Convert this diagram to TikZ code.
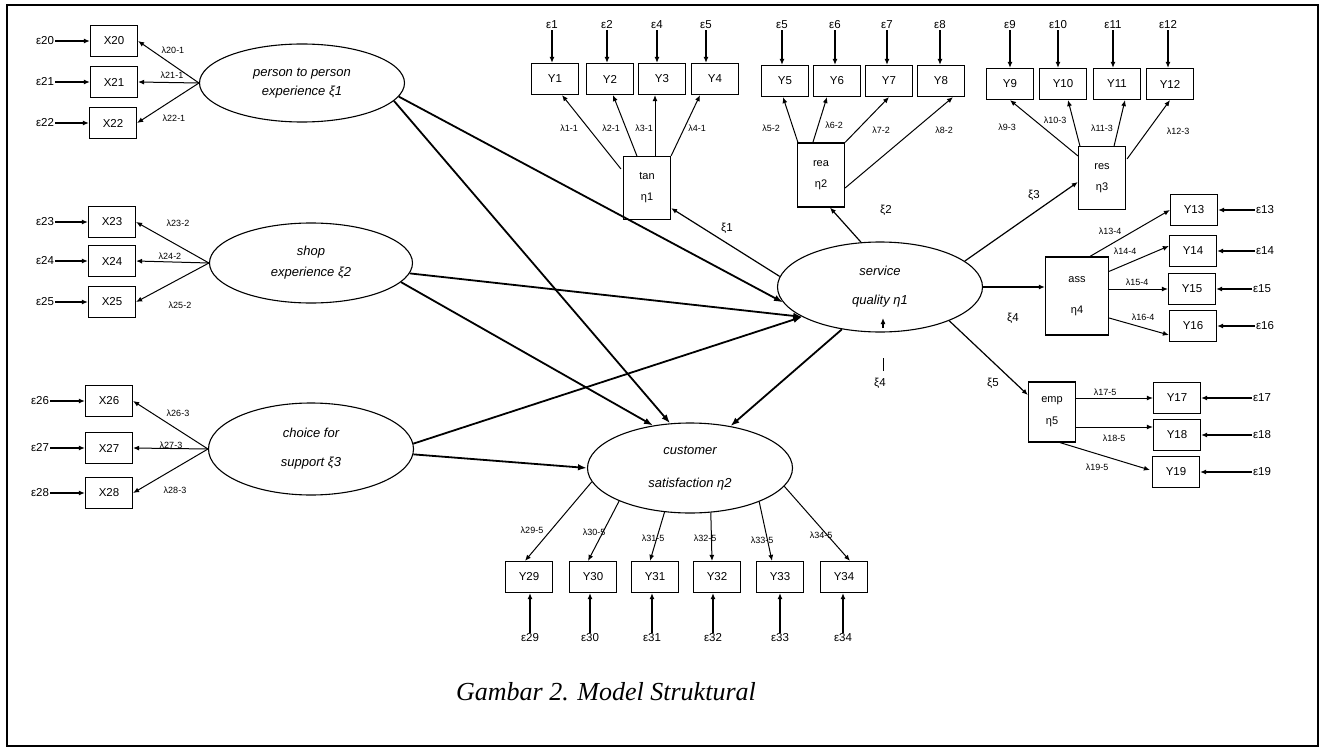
\documentclass[tikz,border=0pt]{standalone}
\usepackage{fontspec}
\setmainfont{Liberation Sans}
\newfontfamily\capfont{Liberation Serif}
\usetikzlibrary{shapes.geometric,arrows.meta,calc}
\begin{document}
\begin{tikzpicture}[x=1pt,y=-1pt,
  every node/.style={inner sep=1pt},
  ind/.style={draw,line width=1.2pt,minimum width=47pt,minimum height=31pt,inner sep=0pt,font=\fontsize{11.5}{12}\selectfont},
  eta/.style={draw,line width=1.2pt,minimum width=47pt,minimum height=63pt,inner sep=0pt,align=center,font=\fontsize{11}{12}\selectfont},
  lat/.style={draw,ellipse,line width=1.1pt,inner sep=0pt,align=center,font=\itshape\fontsize{13}{14}\selectfont},
  err/.style={font=\fontsize{11.5}{12}\selectfont},
  lam/.style={font=\fontsize{9}{10}\selectfont},
  pth/.style={font=\fontsize{11.5}{12}\selectfont},
  ld/.style={line width=1pt,-{Latex[length=6pt,width=5pt]}},
  er/.style={line width=1.2pt,-{Latex[length=6pt,width=5pt]}},
  st/.style={line width=1.8pt,-{Latex[length=9pt,width=6.5pt]}},
]
\useasboundingbox (0,0) rectangle (1331,752);
\draw[line width=1.5pt] (7,5) rectangle (1318,746);

% ---------- latent variables ----------
\node[lat,minimum width=205pt,minimum height=78pt] (xi1) at (302,83) {person to person\\[5pt]experience ξ1};
\node[lat,minimum width=203pt,minimum height=80pt] (xi2) at (311,263) {shop\\[7pt]experience ξ2};
\node[lat,minimum width=205pt,minimum height=92pt] (xi3) at (311,449) {choice for\\[15pt]support ξ3};
\node[lat,minimum width=205pt,minimum height=90pt] (sq) at (880,287) {service\\[15pt]quality η1};
\node[lat,minimum width=205pt,minimum height=90pt] (cs) at (690,468) {customer\\[19pt]satisfaction η2};

% ---------- dimension boxes ----------
\node[eta] (tan) at (647,188) {tan\\[9pt]η1};
\node[eta,minimum height=64pt] (rea) at (821,175) {rea\\[9pt]η2};
\node[eta] (res) at (1102,178) {res\\[9pt]η3};
\node[eta,minimum width=63pt,minimum height=78pt] (ass) at (1077,296) {ass\\[19pt]η4};
\node[eta,minimum height=60pt] (emp) at (1052,412) {emp\\[10pt]η5};

% ---------- exogenous indicators ----------
\foreach \n/\x/\y/\ex in {20/114/41/45,21/114/82/45,22/113/123/45,23/112/222/45,24/112/261/45,25/112/302/45,26/109/401/40,27/109/448/40,28/109/493/40}{
  \node[ind] (X\n) at (\x,\y) {X\n};
  \node[err] (e\n) at (\ex,\y) {ε\n};
  \draw[er] (e\n.east) -- (X\n.west);
}
\foreach \n in {20,21,22}{\draw[ld] (xi1.west) -- (X\n.east);}
\foreach \n in {23,24,25}{\draw[ld] (xi2.west) -- (X\n.east);}
\foreach \n in {26,27,28}{\draw[ld] (xi3.west) -- (X\n.east);}
\node[lam] (l20) at (173,50) {λ20-1};
\node[lam] (l21) at (172,75) {λ21-1};
\node[lam] (l22) at (174,118) {λ22-1};
\node[lam] (l23) at (178,223) {λ23-2};
\node[lam] (l24) at (170,256) {λ24-2};
\node[lam] (l25) at (180,305) {λ25-2};
\node[lam] (l26) at (178,413) {λ26-3};
\node[lam] (l27) at (171,445) {λ27-3};
\node[lam] (l28) at (175,490) {λ28-3};

% ---------- top indicators ----------
\foreach \n/\x/\y/\ex/\et in {1/555/79/552/ε1,2/610/79/607/ε2,3/662/79/657/ε4,4/715/79/706/ε5,
  5/785/81/782/ε5,6/837/81/835/ε6,7/889/81/887/ε7,8/941/81/940/ε8,
  9/1010/84/1010/ε9,10/1063/84/1058/ε10,11/1117/84/1113/ε11,12/1170/84/1168/ε12}{
  \node[ind] (Y\n) at (\x,\y) {Y\n};
  \node[err] (e\n) at (\ex,25) {\et};
  \draw[er] (e\n.south) -- (e\n.south |- Y\n.north);
}
\draw[ld] ($(tan.north west)+(-2,13)$) -- ($(Y1.south)+(7,0)$);
\draw[ld] ($(tan.north west)+(14,0)$) -- ($(Y2.south)+(3,0)$);
\draw[ld] ($(tan.north)+(8,0)$) -- ($(Y3.south)+(-7,0)$);
\draw[ld] (tan.north east) -- ($(Y4.south)+(-15,0)$);
\node[lam] (l1) at (569,128) {λ1-1};
\node[lam] (l2) at (611,128) {λ2-1};
\node[lam] (l3) at (644,128) {λ3-1};
\node[lam] (l4) at (697,128) {λ4-1};

\draw[ld] ($(rea.north west)+(1,0)$) -- ($(Y5.south)+(-2,0)$);
\draw[ld] ($(rea.north west)+(16,0)$) -- ($(Y6.south)+(-10,0)$);
\draw[ld] (rea.north east) -- (Y7.south);
\draw[ld] ($(rea.east)+(0,13)$) -- ($(Y8.south)+(12,0)$);
\node[lam] (l5) at (771,128) {λ5-2};
\node[lam] (l6) at (834,125) {λ6-2};
\node[lam] (l7) at (881,130) {λ7-2};
\node[lam] (l8) at (944,130) {λ8-2};

\draw[ld] ($(res.north west)+(0,10)$) -- (Y9.south);
\draw[ld] ($(res.north west)+(2,0)$) -- ($(Y10.south)+(5,0)$);
\draw[ld] ($(res.north east)+(-12,0)$) -- ($(Y11.south)+(8,0)$);
\draw[ld] ($(res.north east)+(1,13)$) -- (Y12.south);
\node[lam] (l9) at (1007,127) {λ9-3};
\node[lam] (l10) at (1055,120) {λ10-3};
\node[lam] (l11) at (1102,128) {λ11-3};
\node[lam] (l12) at (1178,131) {λ12-3};

% ---------- right indicators ----------
\foreach \n/\x/\y/\ex in {13/1194/210/1265,14/1193/251/1265,15/1192/289/1262,16/1193/326/1265,
  17/1177/398/1262,18/1177/435/1262,19/1176/472/1262}{
  \node[ind] (Y\n) at (\x,\y) {Y\n};
  \node[err] (e\n) at (\ex,\y) {ε\n};
  \draw[er] (e\n.west) -- (e\n.west -| Y\n.east);
}
\coordinate (a15) at ($(ass.east)+(0,-7)$);
\coordinate (m17) at ($(emp.east)+(0,-14)$);
\coordinate (m18) at ($(emp.east)+(0,15)$);
\draw[ld] ($(ass.north)+(13,0)$) -- (Y13.west);
\draw[ld] ($(ass.north east)+(0,15)$) -- ($(Y14.west)+(0,-5)$);
\draw[ld] (a15) -- (a15 -| Y15.west);
\draw[ld] ($(ass.east)+(0,22)$) -- ($(Y16.west)+(0,9)$);
\node[lam] (l13) at (1110,231) {λ13-4};
\node[lam] (l14) at (1125,251) {λ14-4};
\node[lam] (l15) at (1137,282) {λ15-4};
\node[lam] (l16) at (1143,317) {λ16-4};

\draw[ld] (m17) -- (m17 -| Y17.west);
\draw[ld] (m18) -- (m18 -| Y18.west);
\draw[ld] ($(emp.south)+(8,0)$) -- ($(Y19.west)+(-2,-2)$);
\node[lam] (l17) at (1105,392) {λ17-5};
\node[lam] (l18) at (1114,438) {λ18-5};
\node[lam] (l19) at (1097,467) {λ19-5};

% ---------- bottom indicators ----------
\foreach \n/\x/\ex in {29/529/530,30/593/590,31/655/652,32/717/713,33/780/780,34/844/843}{
  \node[ind] (Y\n) at (\x,577) {Y\n};
  \node[err] (e\n) at (\ex,638) {ε\n};
  \draw[er] (e\n.north) -- (e\n.north |- Y\n.south);
}
\draw[ld] (cs.188) -- ($(Y29.north)+(-4,0)$);
\draw[ld] (cs.205) -- ($(Y30.north)+(-5,0)$);
\draw[ld] (cs.240) -- ($(Y31.north)+(-5,0)$);
\draw[ld] (cs.295) -- ($(Y32.north)+(-5,0)$);
\draw[ld] (cs.334) -- ($(Y33.north)+(-8,0)$);
\draw[ld] (cs.349) -- ($(Y34.north)+(6,0)$);
\node[lam] (l29) at (532,530) {λ29-5};
\node[lam] (l30) at (594,532) {λ30-5};
\node[lam] (l31) at (653,538) {λ31-5};
\node[lam] (l32) at (705,538) {λ32-5};
\node[lam] (l33) at (762,540) {λ33-5};
\node[lam] (l34) at (821,535) {λ34-5};

% ---------- structural paths ----------
\draw[st] (xi1.-8) -- (sq.189);
\draw[st] (xi1.-11) -- (cs.114);
\draw[st] (xi2.-6) -- (sq.201);
\draw[st] (xi2.-12) -- (cs.131);
\draw[st] (xi3.3) -- (sq.201);
\draw[st] (xi3.-3) -- (cs.west);
\draw[st] (sq.228) -- (cs.46);

\draw[er] (sq.174) -- ($(tan.south east)+(0,-12)$);
\draw[er] (sq.113) -- ($(rea.south)+(9,0)$);
\draw[er] (sq.17) -- ($(res.west)+(0,4)$);
\draw[er] (sq.east) -- (sq.east -| ass.west);
\draw[er] (sq.-26) -- ($(emp.west)+(0,-17)$);
\node[pth] (p1) at (727,228) {ξ1};
\node[pth] (p2) at (886,210) {ξ2};
\node[pth] (p3) at (1034,195) {ξ3};
\node[pth] (p4) at (1013,318) {ξ4};
\node[pth] (p5) at (993,383) {ξ5};

% disturbance on service quality
\node[pth] (z1) at (880,383) {ξ4};
\coordinate (zt) at (883,371);
\coordinate (zh) at (883,318);
\draw[line width=1pt] (zt) -- ++(0,-13);
\draw[er] ($(zh)+(0,10)$) -- (zh);

% ---------- caption ----------
\node[font=\capfont\itshape\fontsize{26}{28}\selectfont] (cap) at (606,692) {Gambar 2. Model Struktural};
\end{tikzpicture}
\end{document}
